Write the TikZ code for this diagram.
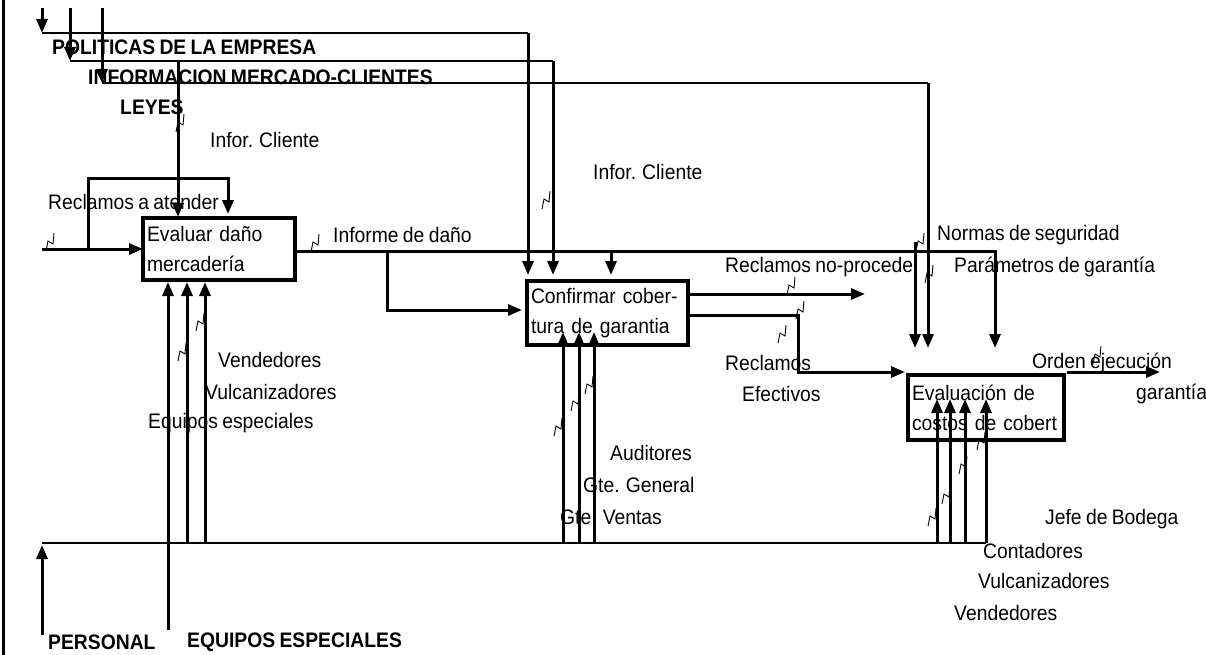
\documentclass[tikz,border=0pt]{standalone}
\usepackage{fontspec}
\setmainfont[FakeStretch=0.92,WordSpace=0.8]{Liberation Sans}
\usetikzlibrary{arrows.meta}
\newcommand\lblfont{\fontsize{21}{30}\selectfont}

\begin{document}
\begin{tikzpicture}[
  x=1pt, y=-1pt,
  box/.style={draw, line width=3.2pt, outer sep=0pt, inner xsep=4pt, inner ysep=0pt,
              align=left, font=\lblfont},
  arr/.style={line width=3pt, -{Triangle[length=14pt,width=11pt]}},
  bus/.style={line width=1.8pt},
  lbl/.style={font=\lblfont, inner sep=0pt, anchor=west},
  hdr/.style={font=\lblfont\bfseries, inner sep=0pt, anchor=west},
  squig/.pic={\draw[line width=0.9pt] (-4,9) -- (-2,-1) -- (3,2) -- (4,-9);}
]
\useasboundingbox (0,0) rectangle (1206,655);

% activity boxes
\node[box, minimum width=152pt, minimum height=62pt, text width=144pt] (eval) at (219,249) {Evaluar daño\\mercadería};
\node[box, minimum width=161pt, minimum height=64pt, text width=153pt] (conf) at (607.5,313) {Confirmar cober-\\tura de garantia};
\node[box, minimum width=156pt, minimum height=65pt, text width=148pt] (cost) at (986,407.5) {Evaluación de\\costos de cobert};

% labels
\node[hdr] (tPol) at (52,47) {POLITICAS DE LA EMPRESA};
\node[hdr] (tInf) at (88,77) {INFORMACION MERCADO-CLIENTES};
\node[hdr] (tLey) at (120,107) {LEYES};
\node[hdr] (tPer) at (48,642) {PERSONAL};
\node[hdr] (tEqu) at (187,642) {EQUIPOS ESPECIALES};
\node[lbl] (tCli1) at (210,140) {Infor. Cliente};
\node[lbl] (tCli2) at (593,172) {Infor. Cliente};
\node[lbl] (tRec) at (48,202) {Reclamos a atender};
\node[lbl] (tDan) at (333,235) {Informe de daño};
\node[lbl] (tNoP) at (725,267) {Reclamos no-procede};
\node[lbl] (tNor) at (937,235) {Normas de seguridad};
\node[lbl] (tPar) at (954,267) {Parámetros de garantía};
\node[lbl] (tEf1) at (725,363) {Reclamos};
\node[lbl] (tEf2) at (742,394) {Efectivos};
\node[lbl] (tOr1) at (1032,363) {Orden ejecución};
\node[lbl] (tOr2) at (1136,394) {garantía};
\node[lbl] (tVe1) at (218,360) {Vendedores};
\node[lbl] (tVu1) at (205,392) {Vulcanizadores};
\node[lbl] (tEq1) at (148,423) {Equipos especiales};
\node[lbl] (tAud) at (610,453) {Auditores};
\node[lbl] (tGtg) at (583,485) {Gte. General};
\node[lbl] (tGtv) at (560,517) {Gte. Ventas};
\node[lbl] (tJef) at (1045,519) {Jefe de Bodega};
\node[lbl] (tCon) at (983,551) {Contadores};
\node[lbl] (tVu2) at (978,581) {Vulcanizadores};
\node[lbl] (tVe2) at (954,613) {Vendedores};

% frame edge
\coordinate (frT) at (3,0);
\coordinate (frB) at (3,655);
\draw[line width=3pt] (frT) -- (frB);

% controls from the top
\coordinate (polIn) at (42,8);
\coordinate (polBus) at (42,33);
\coordinate (infIn) at (70,8);
\coordinate (infBus) at (70,61);
\coordinate (leyIn) at (102,8);
\coordinate (leyBus) at (102,83);
\coordinate (polDrop) at ([xshift=1pt,yshift=6pt]conf.north west);
\coordinate (infDrop) at ([xshift=26pt,yshift=6pt]conf.north west);
\coordinate (infDrop2) at ([xshift=35pt,yshift=1pt]eval.north west);
\coordinate (leyDrop) at ([xshift=20pt,yshift=27pt]cost.north west);
\draw[arr] (polIn) -- (polBus);
\draw[arr] (infIn) -- (infBus);
\draw[arr] (leyIn) -- (leyBus);
\draw[bus] (polBus) -- (polBus -| polDrop);
\draw[bus] (infBus) -- (infBus -| infDrop);
\draw[bus] (leyBus) -- (leyBus -| leyDrop);
\draw[arr] (polBus -| polDrop) -- (polDrop);
\draw[arr] (infBus -| infDrop) -- (infDrop);
\draw[arr] (infBus -| infDrop2) -- (infDrop2);
\draw[arr] (leyBus -| leyDrop) -- (leyDrop);

% reclamos a atender
\coordinate (recIn) at (42,249);
\coordinate (recSplit) at (88,249);
\coordinate (recTop) at (88,179);
\coordinate (recDrop) at ([xshift=85pt,yshift=4pt]eval.north west);
\draw[arr] (recIn) -- (eval.west);
\draw[arr] (recSplit) -- (recTop) -| (recDrop);

% informe de dano
\coordinate (danEnd) at ([xshift=87pt,yshift=27pt]cost.north west);
\coordinate (spl1) at (387,251);
\coordinate (spl2) at (611,251);
\draw[arr] ([yshift=-2pt]eval.east) -| (danEnd);
\draw[arr] (spl1) |- ([xshift=-5pt,yshift=3pt]conf.west);
\draw[arr] (spl2) -- ([xshift=84pt,yshift=6pt]conf.north west);

% normas de seguridad
\coordinate (norIn) at (915,242);
\draw[arr] (norIn) -- ([xshift=7pt,yshift=27pt]cost.north west);

% outputs
\coordinate (noProc) at (865,294);
\coordinate (efBend) at (798,315);
\coordinate (ordOut) at (1160,372);
\draw[arr] (conf.east |- noProc) -- (noProc);
\draw[arr] (conf.east |- efBend) -- (efBend) |- ([xshift=-3pt,yshift=3pt]cost.north west);
\draw[arr] ([xshift=3pt,yshift=3pt]cost.north east) -- (ordOut);

% mechanisms
\coordinate (mechL) at (42,543);
\coordinate (mechR) at (986,543);
\coordinate (perIn) at (42,635);
\coordinate (equIn) at (168,630);
\draw[bus] (mechL) -- (mechR);
\draw[arr] (perIn) -- ([yshift=-2pt]mechL);
\draw[arr] (equIn) -- ([xshift=25pt,yshift=-2pt]eval.south west);
\foreach \dx in {44,62} {
  \coordinate (m) at ([xshift=\dx pt,yshift=-2pt]eval.south west);
  \draw[arr] (m |- mechL) -- (m);
}
\foreach \dx in {36,52,67} {
  \coordinate (m) at ([xshift=\dx pt,yshift=13pt]conf.south west);
  \draw[arr] (m |- mechL) -- (m);
}
\foreach \dx in {29,42,57,78} {
  \coordinate (m) at ([xshift=\dx pt,yshift=41pt]cost.south west);
  \draw[arr] (m |- mechL) -- (m);
}

% squiggles tying labels to arrows
\foreach \p in {(50,242),(315,243),(180,123),(546,200),(182,352),(200,322),
                (558,427),(575,402),(589,385),(791,286),(800,310),(782,334),
                (920,242),(929,274),(1097,355),(932,517),(946,495),(963,465),(981,441)}
  \pic at \p {squig};
\end{tikzpicture}
\end{document}
